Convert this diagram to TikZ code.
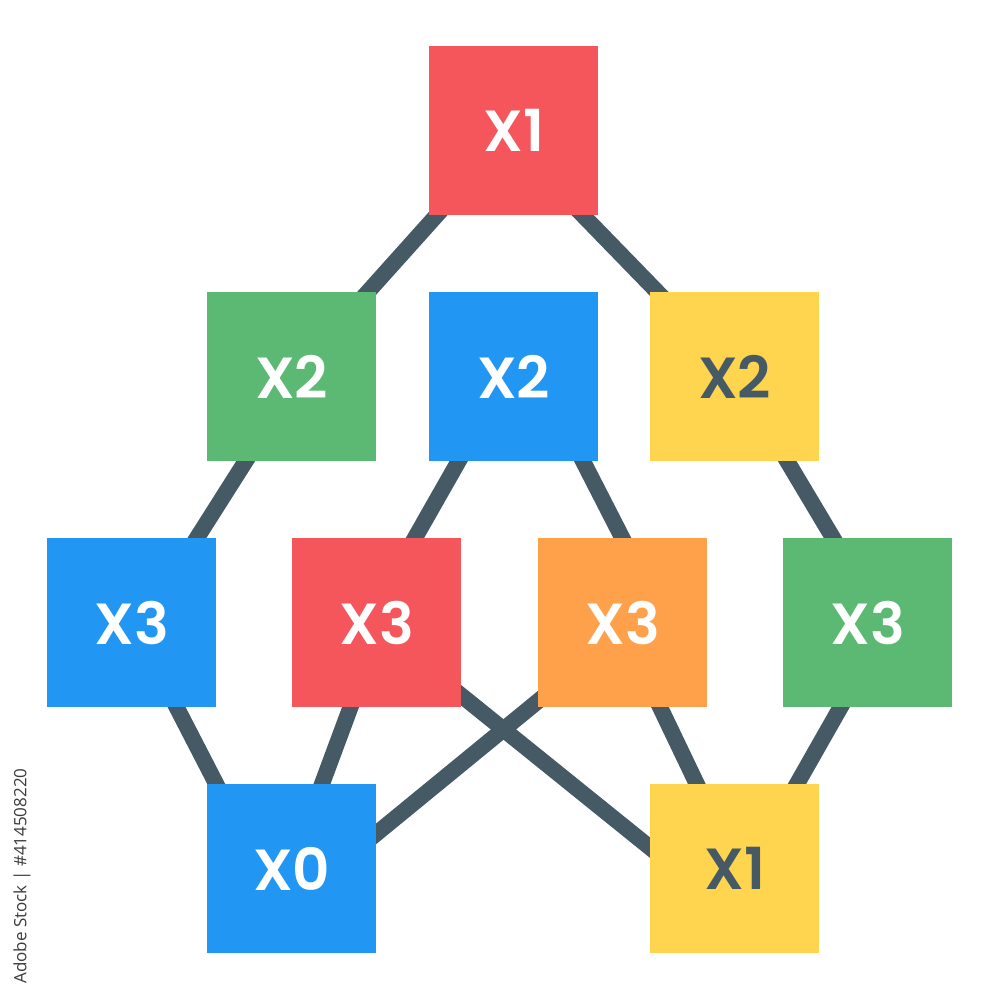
\documentclass[tikz,border=0pt]{standalone}
\usepackage{fontspec}
\setmainfont{Poppins}[BoldFont={* SemiBold}]
\newfontfamily\wmfont{Open Sans}
\usetikzlibrary{calc,backgrounds}
\pgfdeclarelayer{canvas}
\pgfsetlayers{canvas,background,main}
\definecolor{cred}{HTML}{F4565B}
\definecolor{cgreen}{HTML}{5BB974}
\definecolor{cblue}{HTML}{2196F3}
\definecolor{cyellow}{HTML}{FFD54F}
\definecolor{corange}{HTML}{FFA04B}
\definecolor{cdark}{HTML}{455A64}
\definecolor{cwm}{HTML}{3C3C3C}
\tikzset{
  box/.style={minimum size=169pt, inner sep=0pt, anchor=north west,
    font=\fontsize{58}{60}\selectfont\bfseries, text=white},
  darktext/.style={text=cdark},
  link/.style={draw=cdark, line width=16pt}
}
\begin{document}
\begin{tikzpicture}[x=1pt,y=-1pt]
\begin{pgfonlayer}{canvas}
\fill[white] (0,0) rectangle (1000,1000);
\end{pgfonlayer}
\useasboundingbox (0,0) rectangle (1000,1000);
% nodes
\node[box, fill=cred] (t) at (429,46) {X1};
\node[box, fill=cgreen] (g2) at (207,292) {X2};
\node[box, fill=cblue] (b2) at (429,292) {X2};
\node[box, fill=cyellow, darktext] (y2) at (650,292) {X2};
\node[box, fill=cblue] (b3) at (47,538) {X3};
\node[box, fill=cred] (r3) at (292,538) {X3};
\node[box, fill=corange] (o3) at (538,538) {X3};
\node[box, fill=cgreen] (g3) at (783,538) {X3};
\node[box, fill=cblue] (x0) at (207,784) {X0};
\node[box, fill=cyellow, darktext] (x1) at (650,784) {X1};
\node[font=\wmfont\fontsize{17}{18}\selectfont, text=cwm, rotate=90, inner sep=0pt] (wm) at (22,876) {Adobe Stock | \#414508220};
% connectors
\begin{scope}[on background layer]
\draw[link] ($(t.south west)+(21,-15)$) -- ($(g2.north east)+(-22,15)$);
\draw[link] ($(t.south east)+(-30,-15)$) -- ($(y2.north west)+(22,15)$);
\draw[link] ($(g2.south west)+(48,-15)$) -- ($(b3.north east)+(-29,15)$);
\draw[link] ($(b2.south west)+(38,-15)$) -- ($(r3.north east)+(-55,15)$);
\draw[link] ($(b2.south east)+(-23,-15)$) -- ($(o3.north west)+(92,15)$);
\draw[link] ($(y2.south east)+(-41,-15)$) -- ($(g3.north west)+(59,15)$);
\draw[link] ($(b3.south west)+(122,-15)$) -- ($(x0.north west)+(17,15)$);
\draw[link] ($(r3.south west)+(64,-15)$) -- ($(x0.north east)+(-60,15)$);
\draw[link] ($(o3.south west)+(18,-21)$) -- ($(x0.east)+(-16,-22)$);
\draw[link] ($(r3.south east)+(-15,-24)$) -- ($(x1.west)+(15,-9)$);
\draw[link] ($(o3.south west)+(115,-15)$) -- ($(x1.north west)+(54,15)$);
\draw[link] ($(g3.south west)+(66,-15)$) -- ($(x1.north east)+(-31,15)$);
\end{scope}
\end{tikzpicture}
\end{document}
